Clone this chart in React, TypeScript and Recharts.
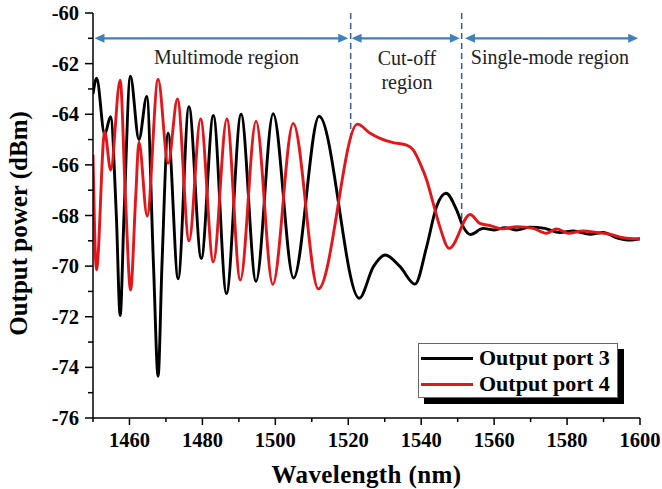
import React from 'react';
import { LineChart, Line, XAxis, YAxis, ReferenceLine, ReferenceDot, Legend } from 'recharts';

const FONT = '"Liberation Serif", "Times New Roman", serif';

const seriesNames = ['Output port 3', 'Output port 4'];
const seriesColors = ['#000000', '#e3161c'];

const port3Wavelength = [
  1450, 1451.0, 1453.2, 1454.8, 1456.4, 1457.45, 1458.5, 1460.25, 1462.6, 1464.75,
  1466.6, 1467.85, 1468.9, 1470.6, 1473.35, 1476.3, 1479.7, 1483.0, 1486.6, 1490.6,
  1494.7, 1499.4, 1505.0, 1512.0, 1523.0, 1526.9, 1530.1, 1534.2, 1538.3, 1541.5,
  1544.2, 1546.8, 1549.7, 1551.5, 1553.5, 1557.0, 1559.8, 1563.0, 1566.2, 1569.8,
  1573.9, 1578.0, 1581.7, 1586.3, 1589.9, 1593.6, 1597.2, 1600,
];
const port3Power = [
  -63.2, -62.58, -64.8, -64.1, -68.0, -71.95, -68.0, -62.5, -65.0, -63.3,
  -70.0, -74.35, -70.0, -64.75, -70.5, -63.7, -69.7, -64.05, -71.08, -64.0,
  -70.6, -63.98, -70.47, -64.08, -71.27, -70.02, -69.56, -70.02, -70.71, -69.23,
  -67.65, -67.12, -67.78, -68.44, -68.75, -68.51, -68.57, -68.48, -68.57, -68.46,
  -68.51, -68.67, -68.61, -68.74, -68.67, -68.88, -68.97, -68.92,
];

const port4Wavelength = [
  1450, 1450.95, 1453.2, 1454.85, 1457.45, 1458.9, 1460.3, 1461.7, 1462.6, 1464.85,
  1467.85, 1470.6, 1473.15, 1476.35, 1479.5, 1483.0, 1486.7, 1490.4, 1494.7, 1499.3,
  1504.9, 1511.8, 1522.5, 1526.0, 1528.7, 1532.3, 1536.0, 1537.8, 1539.7, 1541.5,
  1543.3, 1545.1, 1547.7, 1553.4, 1556.1, 1558.9, 1562.5, 1566.2, 1570.7, 1574.4,
  1577.1, 1580.3, 1584.4, 1588.1, 1591.8, 1595.4, 1600,
];
const port4Power = [
  -65.6, -70.15, -64.69, -66.2, -62.65, -67.3, -70.94, -67.3, -65.1, -68.02,
  -62.62, -65.94, -63.4, -69.0, -64.19, -69.83, -64.19, -70.55, -64.27, -70.72,
  -64.36, -70.9, -64.39, -64.75, -64.95, -65.12, -65.22, -65.41, -65.94, -66.6,
  -67.52, -68.44, -69.3, -67.96, -68.31, -68.4, -68.53, -68.44, -68.51, -68.7,
  -68.53, -68.7, -68.61, -68.67, -68.74, -68.88, -68.93,
];

const xTicks = [1450, 1460, 1470, 1480, 1490, 1500, 1510, 1520, 1530, 1540, 1550, 1560, 1570, 1580, 1590, 1600];
const yTicks = [-76, -75, -74, -73, -72, -71, -70, -69, -68, -67, -66, -65, -64, -63, -62, -61, -60];

// region annotations (data coordinates)
const regionBounds = [1520.66, 1551.1];
const dashedEnds = [-65.0, -68.3];
const arrowLevel = -61.0;
const arrowSpans = [
  [1450.4, 1520.0],
  [1520.9, 1550.6],
  [1552.0, 1599.5],
];
const regionLabels = [
  { x: 1486.6, y: -61.74, lines: ['Multimode region'] },
  { x: 1536.1, y: -61.79, lines: ['Cut-off', 'region'] },
  { x: 1575.3, y: -61.74, lines: ['Single-mode region'] },
];

const port3Data = port3Wavelength.map((x, i) => ({ x, y: port3Power[i] }));
const port4Data = port4Wavelength.map((x, i) => ({ x, y: port4Power[i] }));

const BottomTick = (props: any) => {
  const { x, y, payload } = props;
  const major = payload.value % 20 === 0;
  return (
    <g>
      <line x1={x} x2={x} y1={y} y2={y + (major ? 7 : 4)} stroke="#000" strokeWidth={1.5} />
      {major && (
        <text x={x} y={y + 22} textAnchor="middle" dominantBaseline="central" fontFamily={FONT} fontWeight="bold" fontSize={20.5} fill="#000">
          {payload.value}
        </text>
      )}
    </g>
  );
};

const TopTick = (props: any) => {
  const { x, y, payload } = props;
  const major = payload.value % 20 === 0;
  return <line x1={x} x2={x} y1={y} y2={y + (major ? 7 : 4)} stroke="#000" strokeWidth={1.5} />;
};

const LeftTick = (props: any) => {
  const { x, y, payload } = props;
  const major = payload.value % 2 === 0;
  return (
    <g>
      <line x1={x} x2={x - (major ? 8 : 5)} y1={y} y2={y} stroke="#000" strokeWidth={1.5} />
      {major && (
        <text x={x - 14} y={y} textAnchor="end" dominantBaseline="central" fontFamily={FONT} fontWeight="bold" fontSize={20.5} fill="#000">
          {payload.value}
        </text>
      )}
    </g>
  );
};

const RightTick = (props: any) => {
  const { x, y, payload } = props;
  const major = payload.value % 2 === 0;
  return <line x1={x} x2={x - (major ? 7 : 4)} y1={y} y2={y} stroke="#000" strokeWidth={1.5} />;
};

const YTitle = (props: any) => {
  const vb = props.viewBox || { x: 0, y: 13, width: 93, height: 405 };
  const cx = vb.x + 18;
  const cy = vb.y + vb.height / 2 + 8;
  return (
    <text x={cx} y={cy} transform={`rotate(-90 ${cx} ${cy})`} textAnchor="middle" dominantBaseline="central" fontFamily={FONT} fontWeight="bold" fontSize={25} fill="#000">
      Output power (dBm)
    </text>
  );
};

const XTitle = (props: any) => {
  const vb = props.viewBox || { x: 93, y: 418, width: 547, height: 71 };
  return (
    <text x={vb.x + vb.width / 2} y={vb.y + 56} textAnchor="middle" dominantBaseline="central" fontFamily={FONT} fontWeight="bold" fontSize={25} letterSpacing={0.4} fill="#000">
      Wavelength (nm)
    </text>
  );
};

const ArrowShape = (props: any) => {
  const { x1, y1, x2 } = props;
  const c = '#3d7fc0';
  const L = 10;
  const W = 4.5;
  return (
    <g>
      <line x1={x1 + L - 2} x2={x2 - L + 2} y1={y1} y2={y1} stroke={c} strokeWidth={2.2} />
      <polygon points={`${x1},${y1} ${x1 + L},${y1 - W} ${x1 + L},${y1 + W}`} fill={c} />
      <polygon points={`${x2},${y1} ${x2 - L},${y1 - W} ${x2 - L},${y1 + W}`} fill={c} />
    </g>
  );
};

const makeLabelShape = (lines: string[]) => (props: any) => {
  const { cx, cy } = props;
  return (
    <g>
      {lines.map((t, i) => (
        <text key={i} x={cx} y={cy + i * 23.5} textAnchor="middle" dominantBaseline="central" fontFamily={FONT} fontSize={20} fill="#222">
          {t}
        </text>
      ))}
    </g>
  );
};

const LegendBox = (props: any) => {
  const payload = props.payload && props.payload.length ? props.payload : seriesNames.map((n, i) => ({ value: n, color: seriesColors[i] }));
  return (
    <div
      style={{
        position: 'relative',
        width: 200,
        height: 55,
        boxSizing: 'border-box',
        background: '#fff',
        border: '1px solid #666',
        boxShadow: '6px 6px 0 #000',
        fontFamily: FONT,
        fontWeight: 'bold',
        fontSize: 22,
        color: '#000',
      }}
    >
      {payload.map((p: any, i: number) => (
        <div key={i} style={{ position: 'absolute', left: 0, top: 14 + i * 26 - 13, height: 26, display: 'flex', alignItems: 'center', whiteSpace: 'nowrap' }}>
          <div style={{ width: 52, height: 3, marginLeft: 2, background: p.color }} />
          <span style={{ marginLeft: 6, lineHeight: '26px' }}>{p.value}</span>
        </div>
      ))}
    </div>
  );
};

export default function App() {
  return (
    <div style={{ position: 'absolute', left: 0, top: 0, width: 662, height: 489, background: '#fff' }}>
      <LineChart width={662} height={489} margin={{ top: 13, right: 22, bottom: 0, left: 0 }}>
        <XAxis
          xAxisId={0}
          type="number"
          dataKey="x"
          domain={[1450, 1600]}
          allowDataOverflow
          ticks={xTicks}
          interval={0}
          height={71}
          tickSize={0}
          tickMargin={0}
          tickLine={false}
          axisLine={{ stroke: '#000', strokeWidth: 1.5 }}
          tick={<BottomTick />}
          label={<XTitle />}
        />
        <XAxis
          xAxisId="top"
          orientation="top"
          type="number"
          dataKey="x"
          domain={[1450, 1600]}
          allowDataOverflow
          ticks={xTicks}
          interval={0}
          height={0}
          tickSize={0}
          tickMargin={0}
          tickLine={false}
          axisLine={{ stroke: '#000', strokeWidth: 1.5 }}
          tick={<TopTick />}
        />
        <YAxis
          yAxisId={0}
          type="number"
          domain={[-76, -60]}
          allowDataOverflow
          ticks={yTicks}
          interval={0}
          width={93}
          tickSize={0}
          tickMargin={0}
          tickLine={false}
          axisLine={{ stroke: '#000', strokeWidth: 1.5 }}
          tick={<LeftTick />}
          label={<YTitle />}
        />
        <YAxis
          yAxisId="right"
          orientation="right"
          type="number"
          domain={[-76, -60]}
          allowDataOverflow
          ticks={yTicks}
          interval={0}
          width={0}
          tickSize={0}
          tickMargin={0}
          tickLine={false}
          axisLine={{ stroke: '#000', strokeWidth: 1.5 }}
          tick={<RightTick />}
        />
        {regionBounds.map((b, i) => (
          <ReferenceLine
            key={'d' + i}
            segment={[{ x: b, y: -60 }, { x: b, y: dashedEnds[i] }]}
            stroke="#3b5c8f"
            strokeWidth={1.5}
            strokeDasharray="6 4"
          />
        ))}
        {arrowSpans.map((s, i) => (
          <ReferenceLine
            key={'a' + i}
            segment={[{ x: s[0], y: arrowLevel }, { x: s[1], y: arrowLevel }]}
            shape={ArrowShape}
          />
        ))}
        {regionLabels.map((l, i) => (
          <ReferenceDot key={'l' + i} x={l.x} y={l.y} r={0} shape={makeLabelShape(l.lines)} />
        ))}
        <Line
          data={port3Data}
          dataKey="y"
          name={seriesNames[0]}
          type="monotone"
          stroke={seriesColors[0]}
          strokeWidth={2.9}
          dot={false}
          activeDot={false}
          isAnimationActive={false}
        />
        <Line
          data={port4Data}
          dataKey="y"
          name={seriesNames[1]}
          type="monotone"
          stroke={seriesColors[1]}
          strokeWidth={2.9}
          dot={false}
          activeDot={false}
          isAnimationActive={false}
        />
        <Legend
          layout="vertical"
          align="center"
          verticalAlign="middle"
          content={<LegendBox />}
          wrapperStyle={{ left: 418, top: 343, width: 200, height: 55 }}
        />
      </LineChart>
    </div>
  );
}
